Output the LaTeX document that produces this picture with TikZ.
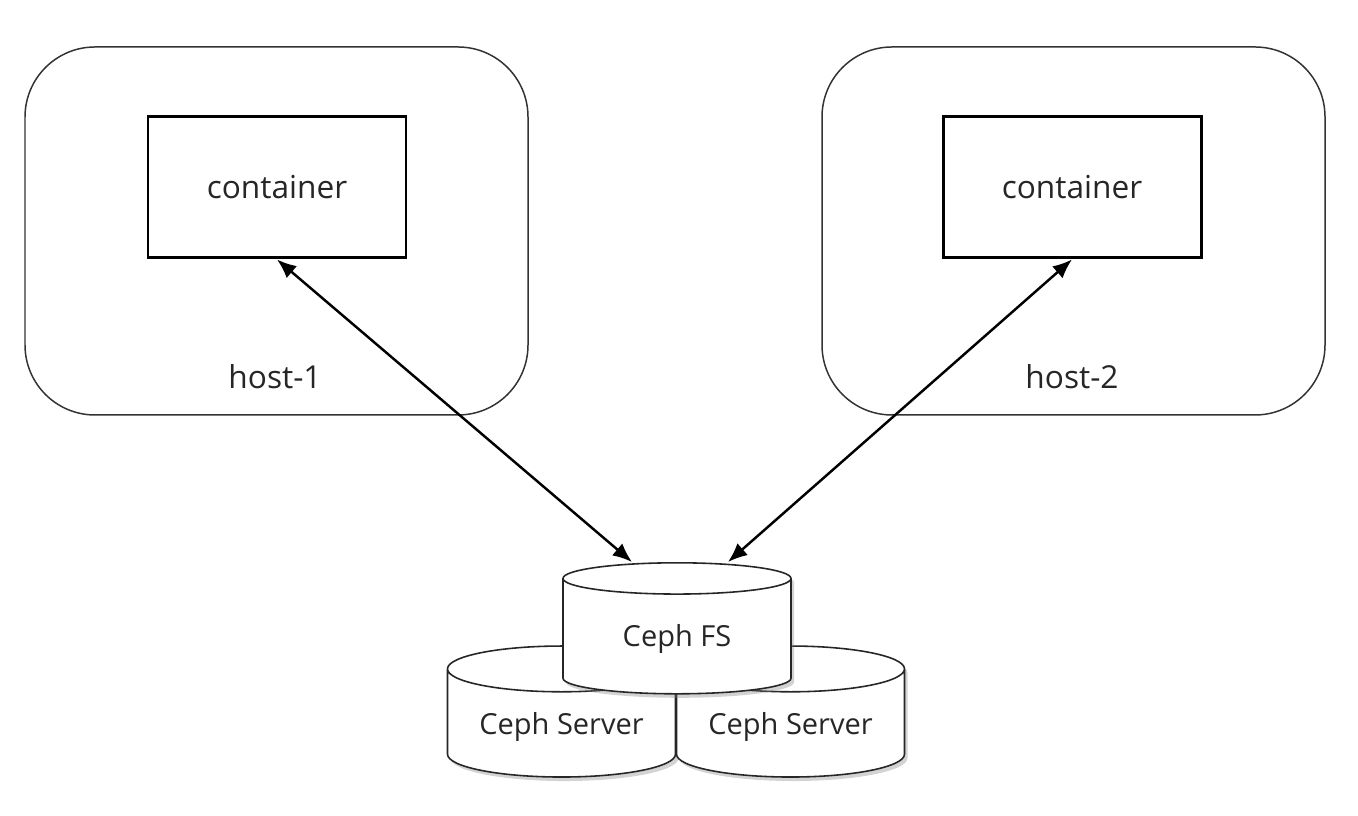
\documentclass[tikz,border=0pt]{standalone}
\usepackage{fontspec}
\setmainfont{Open Sans}
\usetikzlibrary{arrows.meta,shapes.geometric,shadows,calc}

\begin{document}
\begin{tikzpicture}
    \tikzstyle{host}=[
      draw=black!80,
      line width=0.85pt,
      rounded corners=1.4cm,
      minimum width=10.06cm,
      minimum height=7.36cm,
    ]
    \tikzstyle{container}=[
      draw=black,
      line width=1.7pt,
      minimum width=5.16cm,
      minimum height=2.82cm,
      font=\fontsize{18}{21}\selectfont,
      text=black!85,
    ]
    \tikzstyle{hostlabel}=[
      font=\fontsize{18}{21}\selectfont,
      text=black!85,
    ]
    \tikzstyle{disk}=[
      cylinder,
      shape border rotate=90,
      aspect=0.26,
      draw=black!85,
      line width=0.9pt,
      fill=white,
      minimum width=4.56cm,
      minimum height=2.62cm,
      font=\fontsize{16.5}{19}\selectfont,
      text=black!85,
      drop shadow={opacity=0.35, shadow xshift=0.06cm, shadow yshift=-0.08cm},
    ]
    \tikzstyle{link}=[line width=1.4pt, {Latex[length=11pt,width=9pt]}-{Latex[length=11pt,width=9pt]}, draw=black]

    \useasboundingbox (0,0) rectangle (27.16,16.32);

    \coordinate (leftAnchor) at (5.53,11.70);
    \coordinate (rightAnchor) at (21.47,11.70);
    \coordinate (storageAnchor) at (13.54,3.54);

    % host-1
    {
      \node[host] (host1) at (leftAnchor) {};
      \node[container] (cont1) at ([xshift=0.01cm, yshift=0.87cm] leftAnchor) {container};
      \node[hostlabel] (host1label) at ([xshift=-0.03cm, yshift=-2.92cm] leftAnchor) {host-1};
    }

    % host-2
    {
      \node[host] (host2) at (rightAnchor) {};
      \node[container] (cont2) at ([xshift=-0.03cm, yshift=0.87cm] rightAnchor) {container};
      \node[hostlabel] (host2label) at ([xshift=-0.03cm, yshift=-2.92cm] rightAnchor) {host-2};
    }

    % ceph storage
    {
      \node[disk] (server1) at ([xshift=-2.31cm, yshift=-1.76cm] storageAnchor) {Ceph Server};
      \node[disk] (server2) at ([xshift=2.27cm, yshift=-1.76cm] storageAnchor) {Ceph Server};
      \node[disk] (cephfs) at (storageAnchor) {Ceph FS};
    }

    % mounts
    {
      \draw[link] (cont1.south) -- ([xshift=-0.9cm] cephfs.north);
      \draw[link] (cont2.south) -- ([xshift=1.02cm] cephfs.north);
    }
\end{tikzpicture}
\end{document}
